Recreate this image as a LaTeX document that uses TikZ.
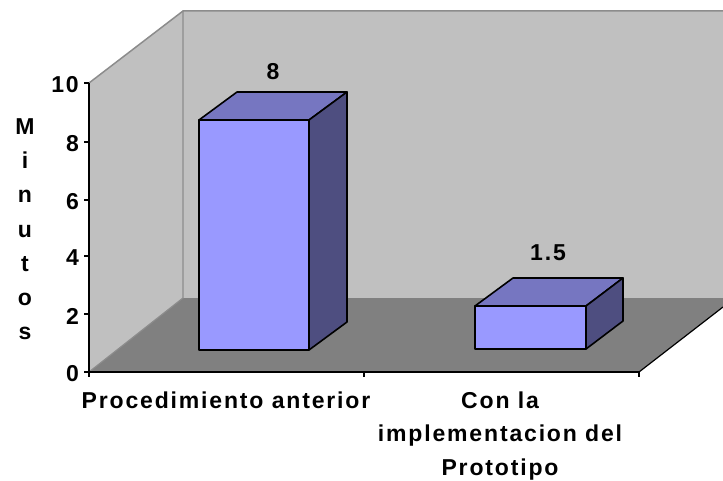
\documentclass[tikz,border=0pt]{standalone}
\usepackage{fontspec}
\newfontfamily\chartfont{Liberation Sans}[LetterSpace=8]
\definecolor{wallgray}{HTML}{C0C0C0}
\definecolor{floorgray}{HTML}{808080}
\definecolor{edgegray}{HTML}{8C8C8C}
\definecolor{barfront}{HTML}{9999FF}
\definecolor{bartop}{HTML}{7676C1}
\definecolor{barside}{HTML}{4E4E80}
\tikzset{
  lbl/.style={font=\chartfont\bfseries\fontsize{23}{34}\selectfont, inner sep=0pt},
  barface/.style={draw=black, line width=1.6pt, line join=round},
  axisline/.style={draw=black, line width=2pt}
}
\begin{document}
\begin{tikzpicture}[x=1pt, y=-1pt]
   \useasboundingbox (0,0) rectangle (723,481);
   % walls and floor
   \fill[wallgray] (183,11) rectangle (723,298);
   \fill[wallgray] (89,83) -- (183,11) -- (183,298) -- (89,372) -- cycle;
   \fill[floorgray] (89,372) -- (639,372) -- (723,307) -- (723,298) -- (183,298) -- cycle;
   \draw[edgegray, line width=1.5pt] (89,83) -- (183,11) -- (723,11);
   \draw[edgegray, line width=1.2pt] (183,11) -- (183,298) -- (89,372);
   \draw[black, line width=1.2pt] (639,372) -- (723,307);
   % bars
   \filldraw[barface, fill=barfront] (199,120) rectangle (309,350);
   \filldraw[barface, fill=bartop] (199,120) -- (237,92) -- (347,92) -- (309,120) -- cycle;
   \filldraw[barface, fill=barside] (309,120) -- (347,92) -- (347,322) -- (309,350) -- cycle;
   \filldraw[barface, fill=barfront] (475,306) rectangle (586,349);
   \filldraw[barface, fill=bartop] (475,306) -- (513,278) -- (623,278) -- (586,306) -- cycle;
   \filldraw[barface, fill=barside] (586,306) -- (623,278) -- (623,321) -- (586,349) -- cycle;
   % axes
   \draw[axisline] (89,83) -- (89,372) -- (639,372);
   \foreach \v/\py in {0/372,2/314,4/256,6/200,8/142,10/83} {
     \draw[axisline] (84,\py) -- (89,\py);
     \node[lbl, anchor=east] (tick\v) at (79,\py+2) {\v};
   }
   \foreach \px in {89,364,639}
     \draw[axisline] (\px,372) -- (\px,377);
   % labels
   \node[lbl] (val1) at (273,72) {8};
   \node[lbl] (val2) at (548,253) {1.5};
   \foreach \ch [count=\i] in {M,i,n,u,t,o,s}
     \node[lbl, anchor=base] (ytitle\i) at (25,101+34*\i) {\ch};
   \node[lbl, anchor=base] (cat1) at (226,408) {Procedimiento anterior};
   \node[lbl, anchor=base] (cat2a) at (500,408) {Con la};
   \node[lbl, anchor=base] (cat2b) at (500,441.5) {implementacion del};
   \node[lbl, anchor=base] (cat2c) at (500,475) {Prototipo};
  \end{tikzpicture}
\end{document}
